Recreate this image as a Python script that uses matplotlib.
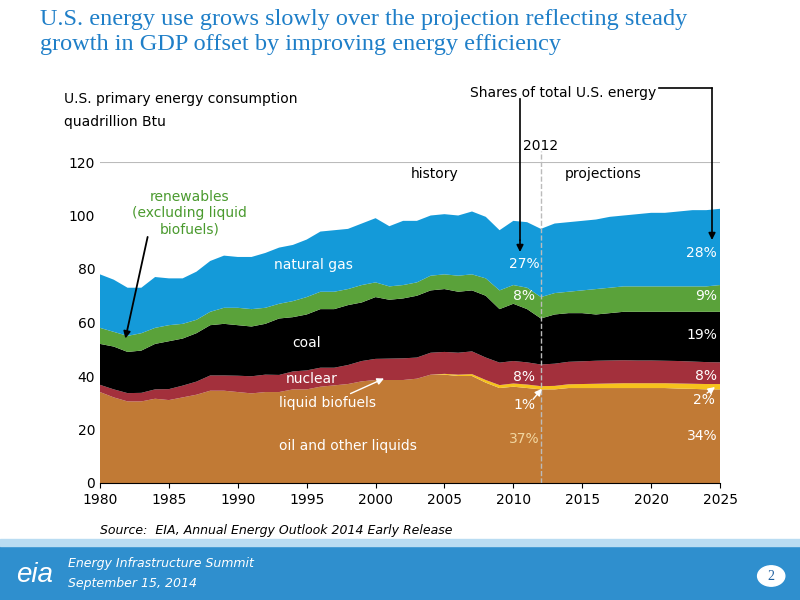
import numpy as np
import matplotlib
matplotlib.use("Agg")
import matplotlib.pyplot as plt
from matplotlib.patches import Rectangle, Circle

years = list(range(1980, 2026))
total = [78,76,73,73,77,76.5,76.5,79,83,85,84.5,84.5,86,88,89,91,94,94.5,95,97,99,96,98,98,100,100.5,100,101.5,99.5,94.5,98,97.5,95,97,97.5,98,98.5,99.5,100,100.5,101,101,101.5,102,102,102.5]
renew_top = [58,56.5,55,56,58,59,59.5,61,64,65.5,65.5,65,65.5,67,68,69.5,71.5,71.5,72.5,74,75,73.5,74,75,77.5,78,77.5,78,76.5,72,74,73,69.5,71,71.5,72,72.5,73,73.5,73.5,73.5,73.5,73.5,73.5,73.5,74]
coal_top = [52,51,49,49.5,52,53,54,56,59,59.5,59,58.5,59.5,61.5,62,63,65,65,66.5,67.5,69.5,68.5,69,70,72,72.5,71.5,72,70,65,67,65,61.5,63,63.5,63.5,63,63.5,64,64,64,64,64,64,64,64]
oil = [34,32,30.5,30.5,31.5,31,32,33,34.5,34.5,34,33.5,34,34,35,35,36,36.5,37,38,38.5,38.5,38.5,39,40.5,40.5,40,40,37.5,35.5,36,35.5,35,35,35.5,35.5,35.5,35.5,35.5,35.5,35.5,35.5,35.3,35.2,35,35]
biofuels = [0]*25 + [0.3,0.5,0.7,1.0,1.1,1.2,1.3,1.2,1.3,1.4,1.5,1.6,1.7,1.8,1.8,1.8,1.8,1.9,1.9,2.0,2.0]
nuclear = [2.7,3,3.1,3.2,3.5,4.1,4.4,4.9,5.7,5.7,6.1,6.4,6.5,6.4,6.7,7.1,7.1,6.6,7.1,7.6,7.9,8.0,8.1,7.9,8.2,8.2,8.2,8.5,8.4,8.4,8.4,8.3,8.1,8.3,8.4,8.5,8.6,8.6,8.6,8.5,8.5,8.4,8.4,8.3,8.2,8.1]

oil_a, bio_a, nuc_a = map(np.array, (oil, biofuels, nuclear))
coal = np.array(coal_top) - (oil_a + bio_a + nuc_a)
renew = np.array(renew_top) - np.array(coal_top)
gas = np.array(total) - np.array(renew_top)

fig = plt.figure(figsize=(8, 6), dpi=100)
fig.patch.set_facecolor("white")
fig.patches.append(Rectangle((0, 0), 1, 0.09, transform=fig.transFigure, color="#2f8fce", zorder=0))
fig.patches.append(Rectangle((0, 0.09), 1, 0.012, transform=fig.transFigure, color="#b9dcf2", zorder=0))
fig.text(0.02, 0.03, "eia", fontsize=20, color="white", family="Liberation Sans", style="italic")
fig.text(0.085, 0.055, "Energy Infrastructure Summit", fontsize=9, color="white", style="italic")
fig.text(0.085, 0.022, "September 15, 2014", fontsize=9, color="white", style="italic")
fig.patches.append(Circle((0.964, 0.04), 0.017, transform=fig.transFigure, color="white", zorder=1))
fig.text(0.964, 0.04, "2", fontsize=10, color="#1f5f9f", ha="center", va="center", family="Liberation Serif", zorder=2)

fig.text(0.05, 0.985, "U.S. energy use grows slowly over the projection reflecting steady\ngrowth in GDP offset by improving energy efficiency",
         fontsize=17.5, color="#1f7fc8", family="Liberation Serif", va="top", linespacing=1.25)

ax = fig.add_axes([0.125, 0.195, 0.775, 0.535])
cols = ["#c17a35", "#f6c21c", "#a3303c", "#000000", "#5aa23a", "#149ad9"]
ax.stackplot(years, oil_a, bio_a, nuc_a, coal, renew, gas, colors=cols, linewidth=0)
ax.set_xlim(1980, 2025)
ax.set_ylim(0, 120)
ax.set_xticks(range(1980, 2026, 5))
ax.set_yticks(range(0, 121, 20))
for s in ["top", "right", "left"]:
    ax.spines[s].set_visible(False)
ax.tick_params(axis="y", length=0, labelsize=10)
ax.tick_params(axis="x", direction="out", labelsize=10)
ax.axhline(120, color="#bbbbbb", lw=0.8)
ax.plot([2012, 2012], [0, 124], ls="--", color="#bbbbbb", lw=1, clip_on=False)

fig.text(0.08, 0.828, "U.S. primary energy consumption", fontsize=10)
fig.text(0.08, 0.79, "quadrillion Btu", fontsize=10)
fig.text(0.125, 0.11, "Source:  EIA, Annual Energy Outlook 2014 Early Release", fontsize=9, style="italic")

ax.text(2012, 124.5, "2012", ha="center", fontsize=10)
ax.text(2006, 114, "history", ha="right", fontsize=10)
ax.text(2016.5, 114, "projections", ha="center", fontsize=10)

ax.text(1986.5, 101, "renewables\n(excluding liquid\nbiofuels)", ha="center", va="center", color="#4a9a2e", fontsize=10)
ax.annotate("", xy=(1981.8, 53), xytext=(1983.5, 93), arrowprops=dict(arrowstyle="-|>", color="black", lw=1.3))
ax.text(1995.5, 80, "natural gas", color="white", fontsize=10, ha="center")
ax.text(1995, 51, "coal", color="white", fontsize=10, ha="center")
ax.text(1993.5, 37.5, "nuclear", color="white", fontsize=10, ha="left")
ax.text(1996.5, 28.5, "liquid biofuels", color="white", fontsize=10, ha="center")
ax.annotate("", xy=(2000.8, 39.5), xytext=(1998, 33), arrowprops=dict(arrowstyle="-|>", color="white", lw=1))
ax.text(1998, 12.5, "oil and other liquids", color="white", fontsize=10, ha="center")

for x, y, t, c in [(2010.8, 80.5, "27%", "white"), (2010.8, 68.5, "8%", "white"), (2010.8, 51, "18%", "black"),
                   (2010.8, 38, "8%", "white"), (2010.8, 27.5, "1%", "white"), (2010.8, 15, "37%", "#f1d6a0"),
                   (2024.8, 84.5, "28%", "white"), (2024.8, 68.5, "9%", "white"), (2024.8, 54, "19%", "white"),
                   (2024.8, 38.5, "8%", "white"), (2023.8, 29.5, "2%", "white"), (2024.8, 16, "34%", "white")]:
    ax.text(x, y, t, color=c, fontsize=10, ha="right" if x > 2024 else "center")
ax.annotate("", xy=(2012.2, 36), xytext=(2011.3, 30.5), arrowprops=dict(arrowstyle="-|>", color="white", lw=1))
ax.annotate("", xy=(2024.8, 36.5), xytext=(2023.9, 33), arrowprops=dict(arrowstyle="-|>", color="white", lw=1))

fig.text(0.587, 0.838, "Shares of total U.S. energy", fontsize=10)
fig.add_artist(plt.Line2D([0.65, 0.65], [0.835, 0.6], color="black", lw=1.2, transform=fig.transFigure))
ax.annotate("", xy=(520, 600 - 252), xytext=(520, 600 - 240), xycoords="figure pixels", textcoords="figure pixels",
            arrowprops=dict(arrowstyle="-|>", color="black", lw=1.2, shrinkA=0, shrinkB=0), annotation_clip=False)
fig.add_artist(plt.Line2D([0.824, 0.89], [0.853, 0.853], color="black", lw=1.2, transform=fig.transFigure))
ax.annotate("", xy=(712, 600 - 240), xytext=(712, 600 - 88), xycoords="figure pixels", textcoords="figure pixels",
            arrowprops=dict(arrowstyle="-|>", color="black", lw=1.2, shrinkA=0, shrinkB=0), annotation_clip=False)

fig.savefig("out.png", dpi=100)
